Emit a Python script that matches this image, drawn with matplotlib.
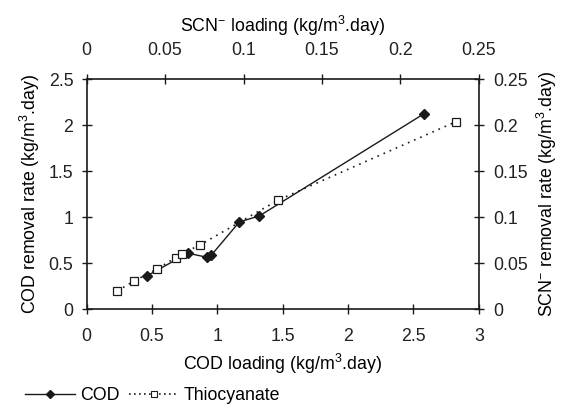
import matplotlib
matplotlib.use("Agg")
import matplotlib.pyplot as plt
from matplotlib.lines import Line2D

plt.rcParams['font.family'] = ['Liberation Sans', 'DejaVu Sans']
plt.rcParams['mathtext.fontset'] = 'custom'
plt.rcParams['mathtext.rm'] = 'Liberation Sans'
plt.rcParams['mathtext.it'] = 'Liberation Sans'
plt.rcParams['font.size'] = 12.8

# Data
cod_loading = [0.465, 0.774, 0.92, 0.953, 1.168, 1.321, 2.579]
cod_removal = [0.366, 0.609, 0.565, 0.587, 0.949, 1.014, 2.123]
scn_loading = [0.0195, 0.0299, 0.045, 0.0567, 0.0609, 0.072, 0.1219, 0.2352]
scn_removal = [0.0199, 0.0304, 0.0438, 0.0562, 0.0605, 0.0696, 0.1185, 0.2036]
bottom_ticks = [0, 0.5, 1, 1.5, 2, 2.5, 3]
bottom_labels = ['0', '0.5', '1', '1.5', '2', '2.5', '3']
left_ticks = [0, 0.5, 1, 1.5, 2, 2.5]
left_labels = ['0', '0.5', '1', '1.5', '2', '2.5']
top_ticks = [0, 0.05, 0.1, 0.15, 0.2, 0.25]
top_labels = ['0', '0.05', '0.1', '0.15', '0.2', '0.25']
right_ticks = [0, 0.05, 0.1, 0.15, 0.2, 0.25]
right_labels = ['0', '0.05', '0.1', '0.15', '0.2', '0.25']

fig = plt.figure(figsize=(5.64, 4.08), dpi=100)
pos = [0.1537, 0.242, 0.849 - 0.1537, 0.806 - 0.242]
ax = fig.add_axes(pos)
ax2 = fig.add_axes(pos, frameon=False)

col = '#1a1a1a'
ax.plot(cod_loading, cod_removal, '-', color=col, lw=1.0, marker='D',
        markersize=5, markerfacecolor=col, markeredgecolor=col, zorder=3)
ax2.plot(scn_loading, scn_removal, linestyle=(0, (1, 3)), color=col, lw=1.2,
         marker='s', markersize=5.5, markerfacecolor='white',
         markeredgecolor=col, markeredgewidth=0.9, zorder=2)

ax.set_xlim(0, 3)
ax.set_ylim(0, 2.5)
ax.set_xticks(bottom_ticks, bottom_labels)
ax.set_yticks(left_ticks, left_labels)
ax2.set_xlim(0, 0.25)
ax2.set_ylim(0, 0.25)
ax2.xaxis.tick_top()
ax2.yaxis.tick_right()
ax2.xaxis.set_label_position('top')
ax2.yaxis.set_label_position('right')
ax2.set_xticks(top_ticks, top_labels)
ax2.set_yticks(right_ticks, right_labels)

for s in ax.spines.values():
    s.set_linewidth(1.2)
    s.set_color(col)

ax.tick_params(axis='x', direction='inout', length=7, width=1, pad=10, colors=col, labelcolor='#222222')
ax.tick_params(axis='y', direction='inout', length=7, width=1, pad=6, colors=col, labelcolor='#222222')
ax2.tick_params(axis='x', direction='inout', length=7, width=1, pad=11, colors=col, labelcolor='#222222')
ax2.tick_params(axis='y', direction='inout', length=7, width=1, pad=7, colors=col, labelcolor='#222222')

ax.set_xlabel(r'COD loading (kg/m$^3$.day)', labelpad=5)
ax.set_ylabel(r'COD removal rate (kg/m$^3$.day)', labelpad=5)
ax2.set_xlabel(r'SCN$^{-}$ loading (kg/m$^3$.day)', labelpad=7)
ax2.set_ylabel(r'SCN$^{-}$ removal rate (kg/m$^3$.day)', labelpad=5)

handles = [
    Line2D([], [], color=col, lw=1.0, marker='D', markersize=4,
           markerfacecolor=col, markeredgecolor=col),
    Line2D([], [], color=col, lw=1.2, linestyle=(0, (1, 2)), marker='s',
           markersize=4.5, markerfacecolor='white', markeredgecolor=col,
           markeredgewidth=0.8),
]
fig.legend(handles, ['COD', 'Thiocyanate'], loc='center left',
           bbox_to_anchor=(0.045, 0.03), ncol=2, frameon=False,
           handlelength=2.8, handletextpad=0.3, columnspacing=0.5,
           borderpad=0, borderaxespad=0)

fig.savefig('out.png', dpi=100)
